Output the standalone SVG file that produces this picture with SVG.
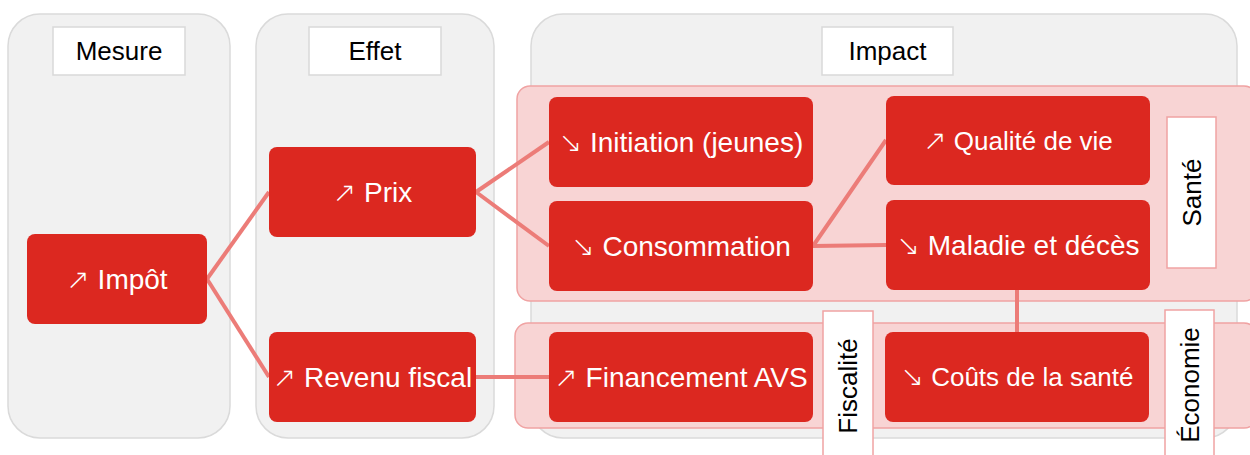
<svg xmlns="http://www.w3.org/2000/svg" width="1250" height="455" viewBox="0 0 1250 455">
<style>
.panel{fill:#f1f1f1;stroke:#dadada;stroke-width:1.5}
.hdr{fill:#ffffff;stroke:#d9d9d9;stroke-width:1.5}
.band{fill:#f8d4d4;stroke:#f0a3a3;stroke-width:1.5}
.lbl{fill:#ffffff;stroke:#f0a3a3;stroke-width:1.5}
.node{fill:#dc2820}
.htxt{font-family:"Liberation Sans",Arial,sans-serif;font-size:26px;fill:#000000;text-anchor:middle}
.ntxt{font-family:"Liberation Sans",Arial,sans-serif;font-size:28px;fill:#ffffff;text-anchor:middle}
.small{font-size:26px}
.arr{font-family:"DejaVu Sans ExtraLight","DejaVu Sans Light","DejaVu Sans",sans-serif;font-weight:200;font-size:28px}
.conn{stroke:#ec7c78;stroke-width:4;fill:none}
</style>
<g id="panels">
  <rect id="col-mesure" class="panel" x="8" y="14" width="222" height="424" rx="32"/>
  <rect id="col-effet" class="panel" x="256" y="14" width="238" height="424" rx="32"/>
  <rect id="col-impact" class="panel" x="531" y="14" width="706" height="424" rx="32"/>
</g>
<g id="headers">
  <g id="hdr-mesure"><rect class="hdr" x="53" y="27" width="132" height="48"/><text class="htxt" x="119" y="60">Mesure</text></g>
  <g id="hdr-effet"><rect class="hdr" x="309" y="27" width="132" height="48"/><text class="htxt" x="375" y="60">Effet</text></g>
  <g id="hdr-impact"><rect class="hdr" x="822" y="27" width="131" height="48"/><text class="htxt" x="887.5" y="60">Impact</text></g>
</g>
<g id="bands">
  <rect id="band-sante" class="band" x="517" y="86" width="740" height="215" rx="13"/>
  <rect id="band-fisc" class="band" x="515" y="323" width="742" height="105" rx="13"/>
</g>
<g id="labels">
  <g id="lbl-sante"><rect class="lbl" x="1167" y="117" width="49" height="151"/><text class="htxt" transform="translate(1201,192.5) rotate(-90)" x="0" y="0">Santé</text></g>
  <g id="lbl-fisc"><rect class="lbl" x="823" y="311" width="50" height="150"/><text class="htxt" transform="translate(857,386) rotate(-90)" x="0" y="0">Fiscalité</text></g>
  <g id="lbl-eco"><rect class="lbl" x="1165" y="310" width="49" height="150"/><text class="htxt" transform="translate(1199,385) rotate(-90)" x="0" y="0">Économie</text></g>
</g>
<g id="connectors">
  <line class="conn" x1="207" y1="279" x2="269" y2="192"/>
  <line class="conn" x1="207" y1="279" x2="269" y2="377"/>
  <line class="conn" x1="476" y1="192" x2="549" y2="142"/>
  <line class="conn" x1="476" y1="192" x2="549" y2="246"/>
  <line class="conn" x1="476" y1="377" x2="549" y2="377"/>
  <line class="conn" x1="813" y1="246" x2="886" y2="140"/>
  <line class="conn" x1="813" y1="246" x2="886" y2="245"/>
  <line class="conn" x1="1017" y1="290" x2="1017" y2="332"/>
</g>
<g id="n-impot"><rect class="node" x="27" y="234" width="180" height="90" rx="8"/><text class="ntxt" x="117" y="289"><tspan class="arr">↗</tspan> Impôt</text></g>
<g id="n-prix"><rect class="node" x="269" y="147" width="207" height="90" rx="8"/><text class="ntxt" x="372.5" y="202"><tspan class="arr">↗</tspan> Prix</text></g>
<g id="n-revenu"><rect class="node" x="269" y="332" width="207" height="90" rx="8"/><text class="ntxt" x="372.5" y="387"><tspan class="arr">↗</tspan> Revenu fiscal</text></g>
<g id="n-initiation"><rect class="node" x="549" y="97" width="264" height="90" rx="8"/><text class="ntxt" x="681" y="152"><tspan class="arr">↘</tspan> Initiation (jeunes)</text></g>
<g id="n-consommation"><rect class="node" x="549" y="201" width="264" height="90" rx="8"/><text class="ntxt" x="681" y="256"><tspan class="arr">↘</tspan> Consommation</text></g>
<g id="n-qualite"><rect class="node" x="886" y="96" width="264" height="89" rx="8"/><text class="ntxt small" x="1018" y="150"><tspan class="arr">↗</tspan> Qualité de vie</text></g>
<g id="n-maladie"><rect class="node" x="886" y="200" width="264" height="90" rx="8"/><text class="ntxt" x="1018" y="255"><tspan class="arr">↘</tspan> Maladie et décès</text></g>
<g id="n-financement"><rect class="node" x="549" y="332" width="264" height="90" rx="8"/><text class="ntxt" x="681" y="387"><tspan class="arr">↗</tspan> Financement AVS</text></g>
<g id="n-couts"><rect class="node" x="885" y="332" width="264" height="90" rx="8"/><text class="ntxt small" x="1017" y="386"><tspan class="arr">↘</tspan> Coûts de la santé</text></g>
</svg>
